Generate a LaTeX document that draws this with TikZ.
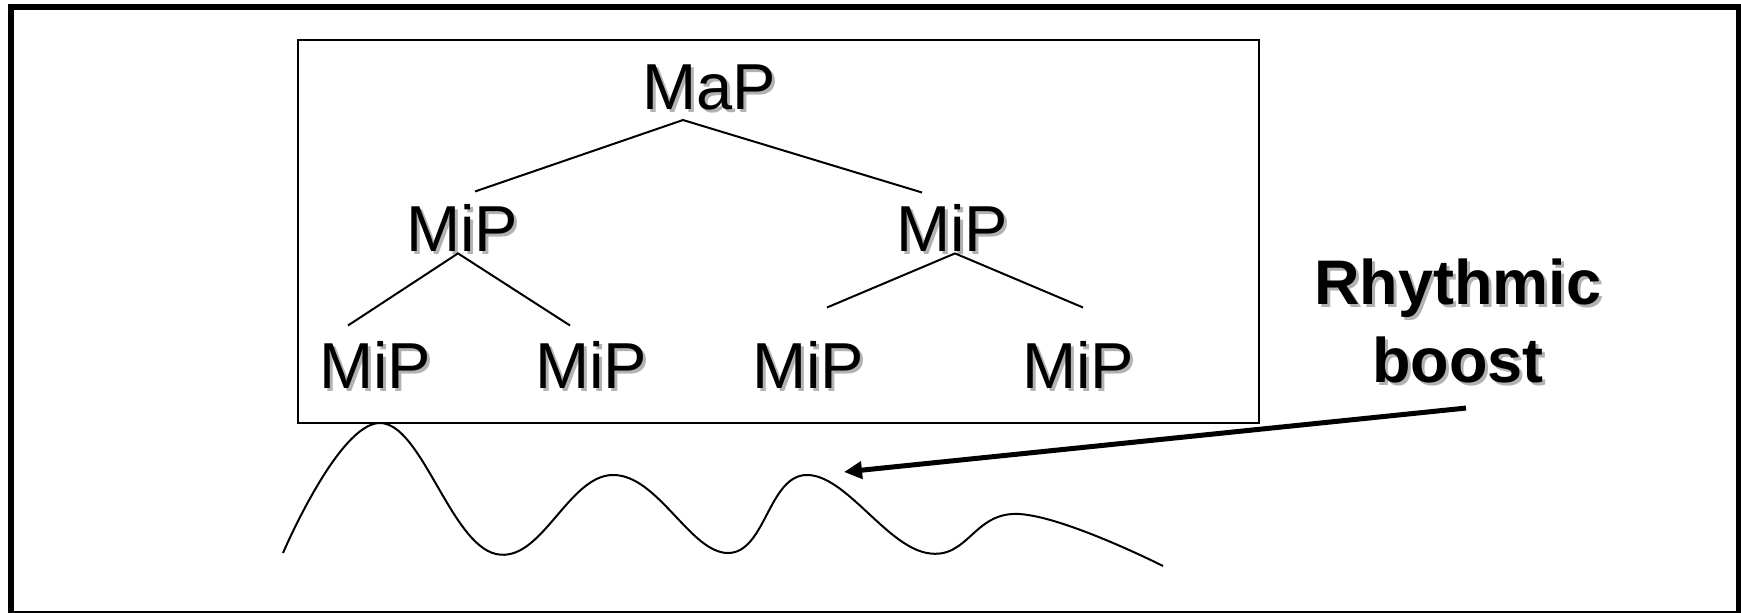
\documentclass[tikz,border=0pt]{standalone}
\usepackage{fontspec}
\setmainfont{Liberation Sans}
\usetikzlibrary{arrows.meta}

\newcommand{\shadowtext}[1]{\rlap{\hspace{1.5pt}\raisebox{-1.5pt}[0pt][0pt]{\color{black!30}#1}}#1}

\begin{document}
\begin{tikzpicture}[x=0.5pt,y=-0.5pt,
    lbl/.style={inner sep=0pt,anchor=base,font=\fontsize{32.5}{38}\selectfont},
    branch/.style={line width=1pt}]
    \useasboundingbox (0,0) rectangle (1741,613);
    \draw[line width=3pt] (11,7) rectangle (1738.5,614);
    \draw[line width=1pt] (298,40) rectangle (1259,423);
    % prosodic tree
    \node[lbl] (map) at (709,110) {\shadowtext{MaP}};
    \node[lbl] (mipl) at (462,252) {\shadowtext{MiP}};
    \node[lbl] (mipr) at (952,252) {\shadowtext{MiP}};
    \node[lbl] (mipll) at (375,389) {\shadowtext{MiP}};
    \node[lbl] (miplr) at (591,389) {\shadowtext{MiP}};
    \node[lbl] (miprl) at (808,389) {\shadowtext{MiP}};
    \node[lbl] (miprr) at (1078,389) {\shadowtext{MiP}};
    \draw[branch] ([shift={(13,-13)}]mipl.north) -- ([shift={(-26,9)}]map.south)
        -- ([shift={(-30,-12)}]mipr.north);
    \draw[branch] ([shift={(-27,-16)}]mipll.north) -- ([shift={(-4,1)}]mipl.south)
        -- ([shift={(-21,-16)}]miplr.north);
    \draw[branch] ([shift={(19,-34)}]miprl.north) -- ([shift={(3,1)}]mipr.south)
        -- ([shift={(5,-34)}]miprr.north);
    % pitch contour
    \draw[branch] plot[smooth,tension=0.7] coordinates {(283,553) (380,423) (496,554)
        (613,475) (728,553) (807,475) (927,553) (1019,514) (1163,566)};
    \node[inner sep=0pt,anchor=north,align=center,font=\fontsize{31.5}{39}\selectfont\bfseries]
        (boost) at (1458,258) {\shadowtext{Rhythmic}\\\shadowtext{boost}};
    \coordinate (tip) at (844,472);
    \draw[line width=2.5pt,-{Triangle[length=9pt,width=8.5pt]}]
        ([shift={(8,25)}]boost.south) -- (tip);
\end{tikzpicture}
\end{document}
